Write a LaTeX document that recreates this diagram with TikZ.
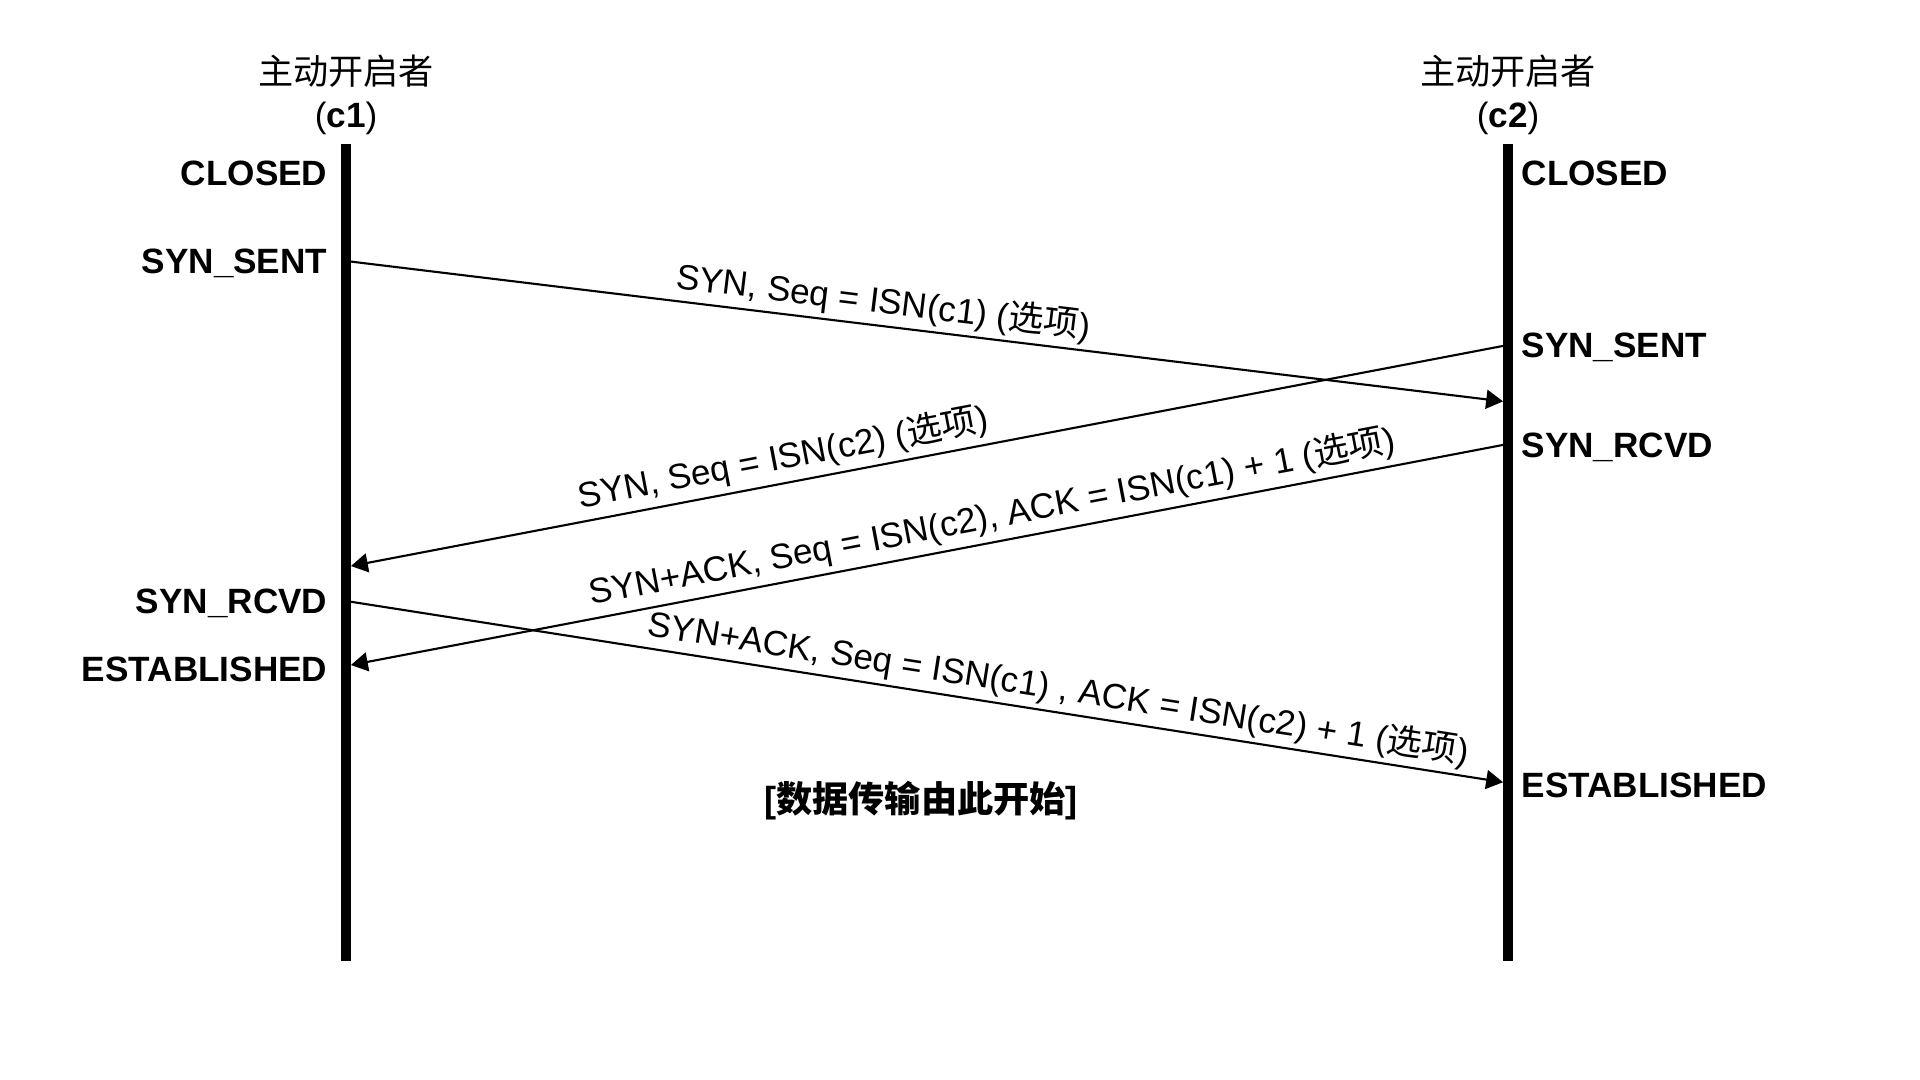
\documentclass[tikz,border=0pt]{standalone}
\usepackage{fontspec}
\setmainfont{Liberation Sans}
\newfontfamily\cjk{Noto Sans CJK SC}
\usetikzlibrary{arrows.meta}

\begin{document}
\begin{tikzpicture}[
    lifeline/.style={line width=2.85pt},
    msg/.style={line width=0.6pt,-{Triangle[length=4.8pt,width=5.4pt]},
        shorten <=0.05cm,shorten >=0.05cm},
    state/.style={font=\bfseries,inner sep=0pt,text height=7.2pt,text depth=0pt},
    lbl/.style={sloped,above,inner sep=1.6pt},
    lbldown/.style={sloped,above,inner sep=1.2pt}
]
    % Frame
    \useasboundingbox (0,0) rectangle (19.2,10.8);

    % Lifelines
    \coordinate (c1top) at (3.46,9.36);
    \coordinate (c1bot) at (3.46,1.19);
    \coordinate (c2top) at (15.08,9.36);
    \coordinate (c2bot) at (15.08,1.19);
    \draw[lifeline] (c1top) -- (c1bot);
    \draw[lifeline] (c2top) -- (c2bot);

    % Headers
    \node (c1name) at (3.46,10.09) {\cjk 主动开启者};
    \node (c1id) at (3.46,9.62) {(\textbf{c1})};
    \node (c2name) at (15.08,10.09) {\cjk 主动开启者};
    \node (c2id) at (15.08,9.62) {(\textbf{c2})};

    % States of c1
    \node[state,anchor=east] (c1closed) at (3.28,9.07) {CLOSED};
    \node[state,anchor=east] (c1sent) at (3.28,8.19) {SYN\_SENT};
    \node[state,anchor=east] (c1rcvd) at (3.28,4.79) {SYN\_RCVD};
    \node[state,anchor=east] (c1est) at (3.28,4.11) {ESTABLISHED};

    % States of c2
    \node[state,anchor=west] (c2closed) at (15.21,9.07) {CLOSED};
    \node[state,anchor=west] (c2sent) at (15.21,7.35) {SYN\_SENT};
    \node[state,anchor=west] (c2rcvd) at (15.21,6.35) {SYN\_RCVD};
    \node[state,anchor=west] (c2est) at (15.21,2.95) {ESTABLISHED};

    % Message ends on the lifelines
    \coordinate (c1out1) at (3.46,8.19);
    \coordinate (c2in1) at (15.08,6.78);
    \coordinate (c2out1) at (15.08,7.35);
    \coordinate (c1in1) at (3.46,5.13);
    \coordinate (c2out2) at (15.08,6.36);
    \coordinate (c1in2) at (3.46,4.14);
    \coordinate (c1out2) at (3.46,4.79);
    \coordinate (c2in2) at (15.08,2.97);

    % Messages
    \draw[msg] (c1out1) -- (c2in1)
        node[lbldown,pos=0.46] {SYN, Seq = ISN(c1) ({\cjk 选项})};
    \draw[msg] (c2out1) -- (c1in1)
        node[lbl,pos=0.62] {SYN, Seq = ISN(c2) ({\cjk 选项})};
    \draw[msg] (c2out2) -- (c1in2)
        node[lbl,pos=0.44] {SYN+ACK, Seq = ISN(c2), ACK = ISN(c1) + 1 ({\cjk 选项})};
    \draw[msg] (c1out2) -- (c2in2)
        node[lbldown,pos=0.61] {SYN+ACK, Seq = ISN(c1) , ACK = ISN(c2) + 1 ({\cjk 选项})};

    % Note
    \node[font=\bfseries\fontsize{10.3}{13}\selectfont] (datastart) at (9.21,2.79)
        {[{\cjk 数据传输由此开始}]};
\end{tikzpicture}
\end{document}
